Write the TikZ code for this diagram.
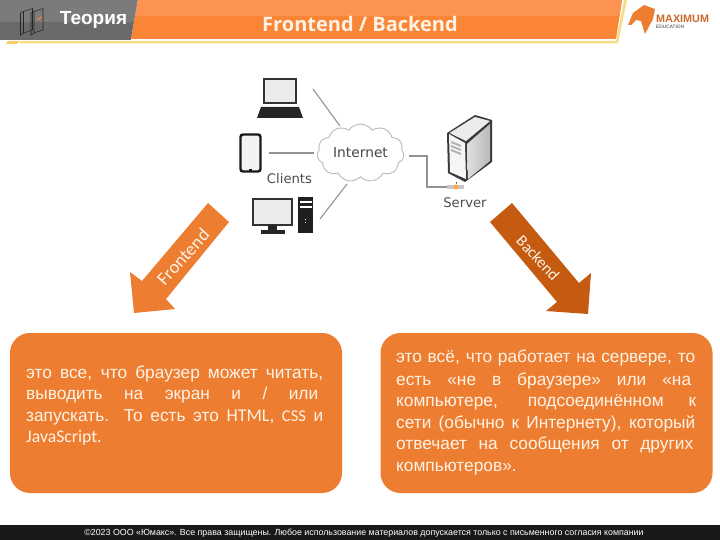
\documentclass[tikz,border=0pt]{standalone}
\usepackage{fontspec}
\setmainfont{Liberation Sans}
\newfontfamily\carlito{Carlito}
\newfontfamily\opensans{Open Sans}
\newfontfamily\dejavu{DejaVu Sans}
\usetikzlibrary{shapes,arrows,positioning}

\definecolor{headgray}{HTML}{6A6A6A}
\definecolor{headlight}{HTML}{7B7B7B}
\definecolor{headorange}{HTML}{FB8536}
\definecolor{lightorange}{HTML}{FD9350}
\definecolor{rimyellow}{HTML}{F5DD8A}
\definecolor{boxorange}{HTML}{ED7D31}
\definecolor{backorange}{HTML}{C55A11}
\definecolor{boxtext}{HTML}{FFF3E6}

\tikzset{
  infobox/.style={fill=boxorange,rounded corners=20pt,minimum width=332pt,minimum height=160pt},
  link/.style={draw=gray!85,line width=1.1pt},
  boxline/.style={anchor=base west,inner sep=0pt,font=\fontsize{17.3}{19}\selectfont,text=boxtext},
  caption/.style={inner sep=0pt,text=black!70,font=\dejavu\fontsize{13.2}{16}\selectfont},
  icon/.style={inner sep=0pt,minimum width=#1}
}

% one justified line of a box, stretched to the given width
\newcommand{\jline}[2]{\makebox[#1][s]{#2}}

\begin{document}
\begin{tikzpicture}[x=1pt,y=-1pt]
\useasboundingbox (0,0) rectangle (720,540);

% header band
\fill[headgray] (0,0) rectangle (138,40);
\fill[headlight] (0,0) rectangle (138,22);
\fill[white] (138,0) -- (623,0) -- (617,40) -- (131,40) -- cycle;
\fill[headorange] (138,0) -- (622,0) -- (616,39) -- (131,39) -- cycle;
\fill[lightorange] (138,0) -- (622,0) -- (619.5,16) -- (135.5,16) -- cycle;
\fill[rimyellow] (20,41) -- (616,41) -- (624,0) -- (627,0) -- (618,43.5) -- (20,43.5) -- cycle;
\fill[rimyellow!80!orange] (8,41) -- (20,41) -- (17,44) -- (6,44) -- cycle;
\node[inner sep=0pt,text=white,font=\bfseries\fontsize{19}{22}\selectfont] (theory) at (93.5,19.5) {Теория};
\node[inner sep=0pt,text=boxtext,font=\opensans\bfseries\fontsize{20}{24}\selectfont] (title) at (360,24) {Frontend / Backend};

% book icon
\foreach \x in {20.5,31} {
  \draw[black!85,line width=0.6pt] (\x,13) -- (\x+3,11.5) -- (\x+3,33) -- (\x,35) -- cycle;
  \draw[black!85,line width=0.6pt] (\x+3,11.5) -- (\x+12,8.5) -- (\x+12,30) -- (\x+3,33);
}
\fill[headorange] (37,19) -- (41.5,16.5) -- (41.5,18) -- (37,20.5) -- cycle;

% logo
\fill[boxorange] (628,25) -- (633,13) -- (644,5) -- (655,9) -- (653,19) -- (645,34) -- (641,21) -- (636,20) -- (631,25) -- cycle;
\node[inner sep=0pt,anchor=west,text=boxorange!85!black,font=\bfseries\fontsize{10.8}{11}\selectfont] (logoname) at (656,19) {MAXIMUM};
\node[inner sep=0pt,anchor=west,text=black!80,font=\fontsize{4.8}{5}\selectfont] (logosub) at (656,26.5) {EDUCATION};

% laptop
\node[icon=32pt,minimum height=24pt,draw=black!80,line width=2pt,fill=gray!15] (laptop) at (280,91) {};
\fill[black!85] (261,107) -- (299,107) -- (303,118) -- (257,118) -- cycle;
\coordinate (laptopend) at (313,89);

% phone
\node[icon=20pt,minimum height=37pt,rounded corners=2.5pt,draw=black!90,line width=2.4pt,fill=gray!10] (phone) at (250.5,153) {};
\fill[black!90] (249,169) rectangle (252,172);
\coordinate (phoneend) at (269,153);

% desktop
\node[icon=39pt,minimum height=26pt,draw=black!80,line width=2pt,fill=gray!15] (monitor) at (272.5,212) {};
\fill[black!85] (268,225) rectangle (277,230);
\fill[black!85] (261,230) rectangle (285,233.5);
\node[icon=15pt,minimum height=36pt,fill=black!88] (tower) at (305.5,215) {};
\fill[white] (299.5,201.5) rectangle (311.5,203);
\fill[white] (299.5,206.5) rectangle (311.5,208);
\fill[white] (305,219) rectangle (306,220.5);
\fill[white] (305,222) rectangle (306,223.5);
\coordinate (desktopend) at (320,219);

% cloud
\node[cloud,cloud puffs=11,cloud puff arc=110,aspect=1.6,draw=gray!55,line width=0.9pt,fill=white,
  minimum width=87pt,minimum height=54pt,inner sep=0pt,font=\dejavu\fontsize{13.8}{16}\selectfont,text=black!72] (internet) at (360.5,153) {Internet};
\coordinate (cloudtop) at (340,126);
\coordinate (cloudleft) at (314,153);
\coordinate (cloudlow) at (347,184);
\coordinate (cloudright) at (409,156);

\node[caption] (clients) at (289.5,179) {Clients};

\draw[link] (laptopend) -- (cloudtop);
\draw[link] (phoneend) -- (cloudleft);
\draw[link] (desktopend) -- (cloudlow);

% server
\fill[gray!45!black] (447,133) -- (475,115) -- (492,120) -- (492,162) -- (465,182) -- (448,173) -- cycle;
\fill[gray!8] (449,134) -- (465,143) -- (466,179) -- (450,172) -- cycle;
\shade[left color=gray!25,right color=gray!55] (467,144) -- (490,124) -- (490,161) -- (468,179) -- cycle;
\fill[gray!15] (449.5,133) -- (475,117) -- (490,121) -- (466,141) -- cycle;
\foreach \y in {141,145,149} {
  \fill[gray!60] (451,\y) -- (461,\y+4) -- (461,\y+6) -- (451,\y+2) -- cycle;
}
\coordinate (serverfoot) at (456,182);
\node[inner sep=0pt,minimum width=17pt,minimum height=3.5pt,fill=gray!45] (serverbar) at (455.5,187) {};
\node[circle,inner sep=0pt,minimum size=5pt,fill=orange!70] (serverdot) at (456,187) {};
\draw[orange!70!black,line width=1pt] (serverfoot) -- (serverdot);
\node[caption] (server) at (465,203) {Server};
\draw[link] (cloudright) -| (427,187) -- (serverbar);

% direction arrows
\fill[boxorange] (208,203) -- (229,222) -- (166,299) -- (175,309) -- (134,313) -- (130,272) -- (142,281) -- cycle;
\fill[backorange] (512,203) -- (490,222) -- (557,302) -- (546,311) -- (588,314) -- (591,273) -- (579,283) -- cycle;
\node[rotate=48,inner sep=0pt,text=boxtext,font=\carlito\fontsize{18.5}{20}\selectfont] (frontend) at (183,257) {Frontend};
\node[rotate=-47,inner sep=0pt,text=boxtext,font=\carlito\fontsize{16}{18}\selectfont] (backend) at (538,258) {Backend};

% text boxes
\node[infobox] (frontbox) at (176,413) {};
\node[infobox] (backbox) at (546.5,413) {};

\node[boxline] (fline1) at (26,378) {\jline{297pt}{это все, что браузер может читать,}};
\node[boxline] (fline2) at (26,399) {\jline{292pt}{выводить на экран и / или}};
\node[boxline] (fline3) at (26,421) {\jline{297pt}{запускать. То есть это {\carlito\fontsize{18}{19}\selectfont HTML}, {\carlito\fontsize{16.5}{19}\selectfont CSS} и}};
\node[boxline] (fline4) at (26,442) {{\carlito\fontsize{17.7}{19}\selectfont JavaScript.}};

\node[boxline] (bline1) at (396,362.5) {\jline{299pt}{это всё, что работает на сервере, то}};
\node[boxline] (bline2) at (396,385) {\jline{295pt}{есть «не в браузере» или «на}};
\node[boxline] (bline3) at (396,406) {\jline{300pt}{компьютере, подсоединённом к}};
\node[boxline] (bline4) at (396,428) {\jline{299pt}{сети (обычно к Интернету), который}};
\node[boxline] (bline5) at (396,449) {\jline{297pt}{отвечает на сообщения от других}};
\node[boxline] (bline6) at (396,471) {компьютеров».};

% footer
\fill[black!90] (0,525) rectangle (720,540);
\node[inner sep=0pt,text=white!85,font=\fontsize{8.85}{10}\selectfont] (footer) at (364,533) {©2023 ООО «Юмакс». Все права защищены. Любое использование материалов допускается только с письменного согласия компании};

\end{tikzpicture}
\end{document}
